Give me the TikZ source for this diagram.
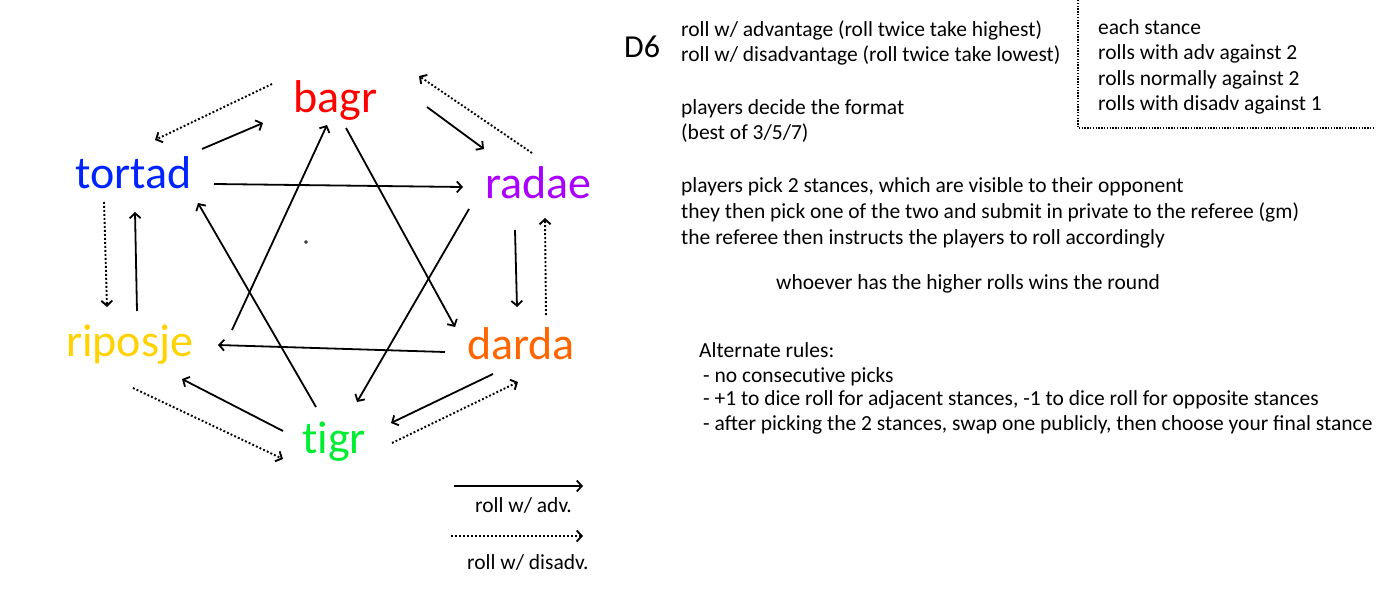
\documentclass[tikz,border=0pt]{standalone}
\usepackage{fontspec}
\setmainfont{Carlito}
\usetikzlibrary{arrows.meta}
\definecolor{cbagr}{RGB}{255,0,0}
\definecolor{ctortad}{RGB}{0,36,255}
\definecolor{cradae}{RGB}{170,0,255}
\definecolor{cdarda}{RGB}{255,102,0}
\definecolor{ctigr}{RGB}{0,238,50}
\definecolor{criposje}{RGB}{255,210,0}
\begin{document}
\begin{tikzpicture}[x=1pt,y=-1pt,
  stance/.style={anchor=base west, inner sep=0pt, font=\fontsize{46}{50}\selectfont},
  txt/.style={anchor=base west, inner sep=0pt, font=\fontsize{21.5}{25}\selectfont},
  tipv/.style={-{Straight Barb[length=5pt,width=11pt]}},
  adv/.style={line width=1.8pt, tipv},
  dis/.style={line width=1.9pt, dash pattern=on 1.9pt off 2.1pt, tipv}]
\useasboundingbox (0,0) rectangle (1376,597);
% stances
\node[stance, text=cbagr] (B) at (293,112) {bagr};
\node[stance, text=ctortad] (T) at (75,188) {tortad};
\node[stance, text=cradae] (R) at (485,198) {radae};
\node[stance, text=cdarda] (D) at (467,359) {darda};
\node[stance, text=criposje] (P) at (66,356) {riposje};
\node[stance, text=ctigr] (G) at (302,453) {t\kern0pt igr};
% arrows
\draw[adv] ([shift={(127,-39)}]T.base west) -- ([shift={(-30,11)}]B.base west);
\draw[dis] ([shift={(-21,-28)}]B.base west) -- ([shift={(80,-48)}]T.base west);
\draw[adv] ([shift={(139,-4)}]T.base west) -- ([shift={(-22,-11)}]R.base west);
\draw[adv] ([shift={(166,-26)}]P.base west) -- ([shift={(34,13)}]B.base west);
\draw[adv] ([shift={(53,16)}]B.base west) -- ([shift={(-12,-32)}]D.base west);
\draw[adv] ([shift={(134,-5)}]B.base west) -- ([shift={(-1,-49)}]R.base west);
\draw[dis] ([shift={(47,-45)}]R.base west) -- ([shift={(126,-36)}]B.base west);
\draw[adv] ([shift={(-16,11)}]R.base west) -- ([shift={(55,-51)}]G.base west);
\draw[adv] ([shift={(30,32)}]R.base west) -- ([shift={(50,-52)}]D.base west);
\draw[dis] ([shift={(79,-44)}]D.base west) -- ([shift={(60,20)}]R.base west);
\draw[adv] ([shift={(-22,-7)}]D.base west) -- ([shift={(152,-11)}]P.base west);
\draw[adv] ([shift={(26,15)}]D.base west) -- ([shift={(89,-30)}]G.base west);
\draw[dis] ([shift={(90,-10)}]G.base west) -- ([shift={(51,23)}]D.base west);
\draw[adv] ([shift={(14,-46)}]G.base west) -- ([shift={(123,15)}]T.base west);
\draw[adv] ([shift={(-19,-22)}]G.base west) -- ([shift={(116,23)}]P.base west);
\draw[dis] ([shift={(67,32)}]P.base west) -- ([shift={(-19,6)}]G.base west);
\draw[adv] ([shift={(71,-45)}]P.base west) -- ([shift={(60,24)}]T.base west);
\draw[dis] ([shift={(29,14)}]T.base west) -- ([shift={(41,-49)}]P.base west);
% tiny mark
\draw[line width=0.6pt] (306,242) circle (1.4);
% legend
\coordinate (la1) at (454,486);
\coordinate (lb1) at (583,486);
\coordinate (la2) at (451,536);
\coordinate (lb2) at (583,536);
\draw[adv] (la1) -- (lb1);
\draw[dis] (la2) -- (lb2);
\node[txt] (lt1) at (475,512) {roll w/ adv.};
\node[txt] (lt2) at (467,569) {roll w/ disadv.};
% texts
\node[anchor=base west, inner sep=0pt, font=\fontsize{32}{36}\selectfont] (d6) at (624,57) {D6};
\node[txt] (t1) at (681,36) {roll w/ advantage (roll twice take highest)};
\node[txt] (t2) at (681,61) {roll w/ disadvantage (roll twice take lowest)};
\node[txt] (t3) at (681,114) {players decide the format};
\node[txt] (t4) at (681,139) {(best of 3/5/7)};
\node[txt] (t5) at (681,192) {players pick 2 stances, which are visible to their opponent};
\node[txt] (t6) at (681,218) {they then pick one of the two and submit in private to the referee (gm)};
\node[txt] (t7) at (681,244) {the referee then instructs the players to roll accordingly};
\node[txt] (t8) at (776,289) {whoever has the higher rolls wins the round};
\node[txt] (t9) at (699,357) {Alternate rules:};
\node[txt] (t10) at (703,382) {- no consecut\kern0pt ive picks};
\node[txt] (t11) at (703,405) {- +1 to dice roll for adjacent stances, -1 to dice roll for opposite stances};
\node[txt] (t12) at (703,430) {- after picking the 2 stances, swap one publicly, then choose your final stance};
% box
\node[txt] (s1) at (1098,34) {each stance};
\node[txt] (s2) at (1098,59) {rolls with adv against 2};
\node[txt] (s3) at (1098,85) {rolls normally against 2};
\node[txt] (s4) at (1098,110) {rolls with disadv against 1};
\coordinate (bx1) at (1078,0);
\coordinate (bx2) at (1078,128);
\coordinate (bx3) at (1376,128);
\draw[line width=1.6pt, dash pattern=on 1.4pt off 1.4pt] (bx1) -- (bx2) -- (bx3);
\end{tikzpicture}
\end{document}
